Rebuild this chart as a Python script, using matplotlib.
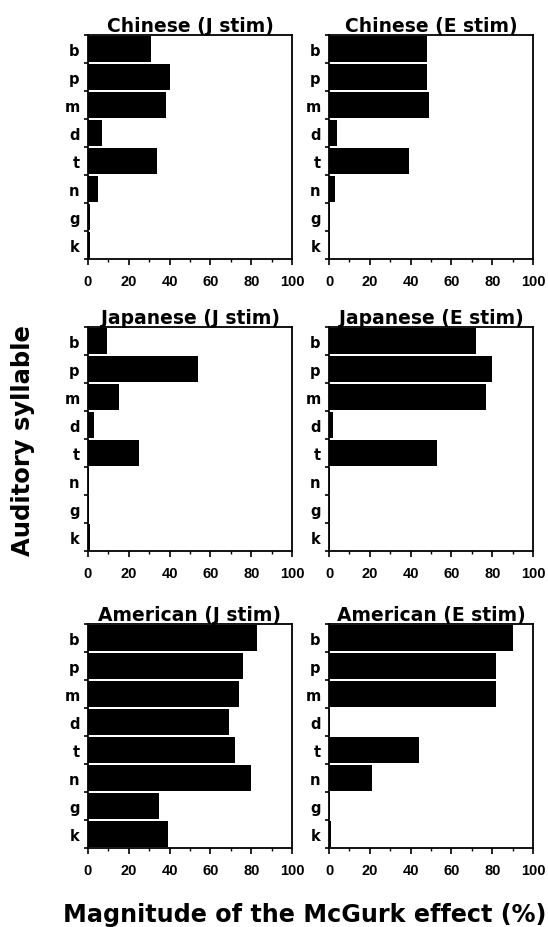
import numpy as np
import matplotlib
matplotlib.use("Agg")
import matplotlib.pyplot as plt

plt.rcParams['font.family'] = ['DejaVu Sans']
plt.rcParams['font.weight'] = 'bold'

syllables = ['b', 'p', 'm', 'd', 't', 'n', 'g', 'k']

chinese_j = [31, 40, 38, 7, 34, 5, 1, 1]
chinese_e = [48, 48, 49, 4, 39, 3, 0.5, 0.5]
japanese_j = [9.5, 54, 15, 3, 25, 0.5, 0.5, 1]
japanese_e = [72, 80, 77, 2, 53, 0.5, 0.5, 0.5]
american_j = [83, 76, 74, 69, 72, 80, 35, 39]
american_e = [90, 82, 82, 0.5, 44, 21, 0.5, 1]

panels = [
    ("Chinese (J stim)", chinese_j),
    ("Chinese (E stim)", chinese_e),
    ("Japanese (J stim)", japanese_j),
    ("Japanese (E stim)", japanese_e),
    ("American (J stim)", american_j),
    ("American (E stim)", american_e),
]

W, H = 548, 928
fig = plt.figure(figsize=(W / 100, H / 100), dpi=100)

col_left = [88, 329]
row_top = [36, 328, 625]
ax_w, ax_h = 204, 224

for i, (title, vals) in enumerate(panels):
    r, c = divmod(i, 2)
    ax = fig.add_axes([col_left[c] / W, 1 - (row_top[r] + ax_h) / H, ax_w / W, ax_h / H])
    y = np.arange(len(syllables))
    ax.barh(y, vals, height=0.9, color='black')
    ax.set_xlim(0, 100)
    ax.set_ylim(7.5, -0.5)
    ax.set_yticks(y)
    ax.set_yticklabels(syllables, fontsize=10.5, fontweight='bold')
    ax.set_yticks(np.arange(-0.5, 8, 1), minor=True)
    ax.tick_params(axis='y', which='major', length=0, pad=6)
    ax.tick_params(axis='y', which='minor', length=3, width=1.2, direction='out')
    ax.set_xticks(np.arange(0, 101, 20))
    ax.set_xticks(np.arange(0, 101, 10), minor=True)
    ax.tick_params(axis='x', which='major', length=4, width=1.2, direction='out', pad=7)
    ax.tick_params(axis='x', which='minor', length=2.5, width=1.0, direction='out')
    for lab in ax.get_xticklabels():
        lab.set_fontweight('bold')
        lab.set_family('Liberation Sans')
        lab.set_fontsize(10.5)
    for sp in ax.spines.values():
        sp.set_linewidth(1.3)
    ax.set_title(title, fontsize=13.5, fontweight='bold', pad=3)

fig.text(23 / W, 1 - 441 / H, "Auditory syllable", rotation=90, ha='center', va='center',
         fontsize=17.5, fontweight='bold')
fig.text(305 / W, 1 - 922 / H, "Magnitude of the McGurk effect (%)", ha='center', va='baseline',
         fontsize=17.2, fontweight='bold')

fig.savefig("out.png", dpi=100)
